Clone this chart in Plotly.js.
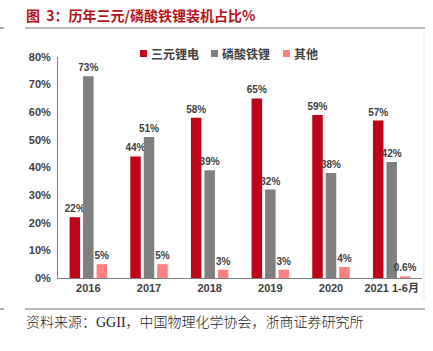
<!DOCTYPE html>
<html><head><meta charset="utf-8">
<script src="https://cdn.plot.ly/plotly-3.0.1.min.js"></script>
<style>html,body{margin:0;padding:0;background:#fff}#c{width:433px;height:351px}</style>
</head><body><div id="c"></div>
<script>
const categories = ["2016","2017","2018","2019","2020","2021 1-6月"];
const ternary = [0.22,0.44,0.58,0.65,0.59,0.57];
const lfp = [0.73,0.51,0.39,0.32,0.38,0.42];
const others = [0.05,0.05,0.03,0.03,0.04,0.006];
const ternaryLabels = ["22%","44%","58%","65%","59%","57%"];
const lfpLabels = ["73%","51%","39%","32%","38%","42%"];
const otherLabels = ["5%","5%","3%","3%","4%","0.6%"];
const seriesNames = ["三元锂电","磷酸铁锂","其他"];
const seriesColors = ["#C00418","#808080","#FF8080"];
const yTicks = [0,0.1,0.2,0.3,0.4,0.5,0.6,0.7,0.8];
const yTickText = ["0%","10%","20%","30%","40%","50%","60%","70%","80%"];

const F = "Liberation Sans, Arial, Noto Sans CJK SC, sans-serif";
const lblFont = {family:F, size:10, color:"#404040", weight:"bold"};
function mk(i, y, txt){
  return {type:"bar", name:seriesNames[i], x:categories, y:y, text:txt, textposition:"outside",
    constraintext:"none", textfont:lblFont, cliponaxis:false, marker:{color:seriesColors[i]},
    hoverinfo:"none", showlegend:false};
}
const data = [ mk(0, ternary, ternaryLabels), mk(1, lfp, lfpLabels), mk(2, others, otherLabels) ];

// pixel -> paper helpers (plot area: x 58..422, y 57..278)
const L=58, W=364, T=57, H=221;
const px = v => (v-L)/W, py = v => (T+H-v)/H;

const shapes = [
  {type:"line", xref:"paper", yref:"paper", x0:px(25), x1:px(425), y0:py(28), y1:py(28), line:{color:"#707070", width:1.2}},
  {type:"line", xref:"paper", yref:"paper", x0:px(25), x1:px(425), y0:py(309), y1:py(309), line:{color:"#707070", width:1.2}},
  {type:"line", xref:"paper", yref:"paper", x0:px(424), x1:px(424), y0:py(34), y1:py(300), line:{color:"#e6e6e6", width:1}},
  {type:"line", xref:"paper", yref:"paper", x0:px(0), x1:px(4), y0:py(28), y1:py(28), line:{color:"#555", width:1}},
  {type:"line", xref:"paper", yref:"paper", x0:px(0), x1:px(4), y0:py(309), y1:py(309), line:{color:"#555", width:1}}
];
const annotations = [
  {text:"图  3：历年三元/磷酸铁锂装机占比%", xref:"paper", yref:"paper",
   x:px(24), y:py(15), xanchor:"left", yanchor:"middle", showarrow:false,
   font:{family:"Noto Sans CJK SC, sans-serif", size:14, color:"#B5121B", weight:"bold"}},
  {text:"资料来源：GGII，中国物理化学协会，浙商证券研究所", xref:"paper", yref:"paper",
   x:px(24), y:py(322), xanchor:"left", yanchor:"middle", showarrow:false,
   font:{family:"Liberation Serif, Noto Sans CJK SC, serif", size:14, color:"#222", weight:300}}
];
// legend
const legX = [140, 211, 283];
seriesNames.forEach((n,i)=>{
  shapes.push({type:"rect", xref:"paper", yref:"paper", x0:px(legX[i]), x1:px(legX[i]+7),
    y0:py(57), y1:py(50), fillcolor:seriesColors[i], line:{width:0}});
  annotations.push({text:n, xref:"paper", yref:"paper", x:px(legX[i]+9), y:py(53.5),
    xanchor:"left", yanchor:"middle", showarrow:false,
    font:{family:"Noto Sans CJK SC, sans-serif", size:12, color:"#404040", weight:"bold"}});
});

const layout = {
  width:433, height:351,
  margin:{l:L, r:433-L-W, t:T, b:351-T-H},
  paper_bgcolor:"#fff", plot_bgcolor:"#fff",
  barmode:"group", bargap:0.333, bargroupgap:0.22,
  showlegend:false,
  xaxis:{type:"category", showline:true, linecolor:"#808080", linewidth:1, ticks:"",
    tickfont:{family:F, size:11, color:"#404040", weight:"bold"}, showgrid:false, zeroline:false},
  yaxis:{range:[0,0.8], tickvals:yTicks, ticktext:yTickText, showline:true, linecolor:"#808080",
    linewidth:1, ticks:"", showgrid:false, zeroline:false, ticklabelstandoff:4,
    tickfont:{family:F, size:11, color:"#404040", weight:"bold"}},
  annotations:annotations, shapes:shapes
};
Plotly.newPlot("c", data, layout, {displayModeBar:false, staticPlot:true});
</script></body></html>
